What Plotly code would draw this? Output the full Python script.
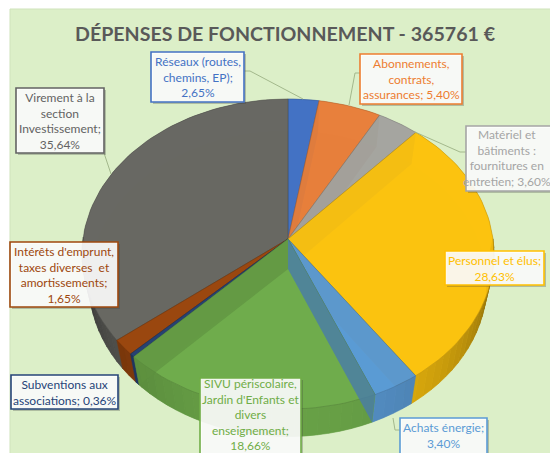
import math
import plotly.graph_objects as go

# ---- data ----
categories = ["Réseaux (routes, chemins, EP)", "Abonnements, contrats, assurances",
              "Matériel et bâtiments : fournitures en entretien", "Personnel et élus",
              "Achats énergie", "SIVU périscolaire, Jardin d'Enfants et divers enseignement",
              "Subventions aux associations", "Intérêts d'emprunt, taxes diverses et amortissements",
              "Virement à la section Investissement"]
values = [2.65, 5.40, 3.60, 28.63, 3.40, 18.66, 0.36, 1.65, 35.64]
colors = ["#4472c4", "#e8803c", "#a5a5a0", "#fcc30f", "#5b9bd5", "#70ad4c", "#264478", "#9e480e", "#686863"]
title_text = "DÉPENSES DE FONCTIONNEMENT - 365761 €"
label_lines = [
    "Réseaux (routes,<br>chemins, EP);<br>2,65%",
    "Abonnements,<br>contrats,<br>assurances; 5,40%",
    "Matériel et<br>bâtiments :<br>fournitures en<br>entretien; 3,60%",
    "Personnel et élus;<br>28,63%",
    "Achats énergie;<br>3,40%",
    "SIVU périscolaire,<br>Jardin d'Enfants et<br>divers<br>enseignement;<br>18,66%",
    "Subventions aux<br>associations; 0,36%",
    "Intérêts d'emprunt,<br>taxes diverses  et<br>amortissements;<br>1,65%",
    "Virement à la<br>section<br>Investissement;<br>35,64%",
]
boxes = [(151, 52, 244, 102), (360, 54, 462, 104), (466, 126, 560, 191), (445, 251, 544, 285),
         (400, 418, 487, 460), (200, 378, 301, 462), (11, 375, 118, 409), (10, 242, 118, 307), (16, 88, 104, 153)]
text_centres = [None, None, (507, 158), None, (443, 435), (250, 414), None, None, None]
leaders = [[(244, 71), (250, 71), (303, 99)], [(360, 73), (355, 73), (349, 105)],
           [(466, 152), (460, 152), (415, 132)], [], [(400, 430), (395, 430), (393, 418)],
           [], [], [], [(104, 153), (111, 174)]]
text_colors = ["#4472c4", "#ed7d31", "#a5a5a5", "#ffc000", "#5b9bd5", "#70ad47", "#264478", "#9e480e", "#636363"]

# ---- projection of the tilted pie ----
CX, CY, A, B, P, DEPTH = 288, 239, 205, 153.6, 0.0968, 30


def proj(deg, r=1.0, low=False):
    s, c = math.sin(math.radians(deg)), math.cos(math.radians(deg))
    k = 1 / (1 + P * c * r)
    x, y = A * s * r * k, -B * c * r * k
    if low:
        return CX + x * 0.965, CY + y * 0.985 + DEPTH
    return CX + x, CY + y


def rgba(h, a=1.0, f=1.0):
    r, g, b = [min(255, int(int(h[i:i + 2], 16) * f)) for i in (1, 3, 5)]
    return f"rgba({r},{g},{b},{a})"


def poly(fig, pts, fill, line=None, w=0.0):
    xs, ys = zip(*pts)
    fig.add_trace(go.Scatter(x=list(xs) + [xs[0]], y=list(ys) + [ys[0]], mode="lines", fill="toself",
                             fillcolor=fill, line=dict(color=line or "rgba(0,0,0,0)", width=w),
                             hoverinfo="skip", showlegend=False))


def arc(a0, a1, low=False):
    n = max(2, int(abs(a1 - a0) / 2) + 1)
    return [proj(a0 + (a1 - a0) * i / n, low=low) for i in range(n + 1)]


fig = go.Figure()
total = sum(values)
spans, cum = [], 0.0
for v in values:
    spans.append((cum * 360 / total, (cum + v) * 360 / total))
    cum += v

order = sorted(range(len(values)), key=lambda i: -math.cos(math.radians(sum(spans[i]) / 2)))
apex_t, apex_b = (CX, CY), (CX, CY + DEPTH)

# solid base of the top faces, so the band above the bottom edge does not show
for i in order:
    poly(fig, [apex_t] + arc(*spans[i]), rgba(colors[i]))

# bottom faces and inner walls, seen through the translucent top
for i in order:
    a0, a1 = spans[i]
    col = colors[i]
    poly(fig, [apex_b] + arc(a0, a1, low=True), rgba(col, 0.7, 0.95))
    poly(fig, [apex_t, proj(a0), proj(a0, low=True), apex_b], rgba(col, 0.7, 0.75))
    poly(fig, [apex_t, proj(a1), proj(a1, low=True), apex_b], rgba(col, 0.7, 0.75))

# outer wall, shaded towards the sides
for i in order:
    a0, a1 = spans[i]
    a = a0
    while a < a1 - 1e-6:
        b = min(a + 3, a1)
        c = math.cos(math.radians((a + b) / 2))
        if c < 0.0:
            f = 0.38 + 0.55 * (max(0.0, -c) ** 0.75)
            fc = rgba(colors[i], 1.0, f)
            poly(fig, [proj(a), proj(b), proj(b, low=True), proj(a, low=True)], fc, fc, 0.6)
        a = b

# top faces
for i in order:
    a0, a1 = spans[i]
    poly(fig, [apex_t] + arc(a0, a1), rgba(colors[i], 0.9), rgba(colors[i], 0.9, 0.75), 0.6)

# side walls of the front wedges that show through the top face
a_end = spans[4][1]
poly(fig, [apex_t, proj(a_end), proj(a_end, low=True), apex_b], rgba(colors[4], 0.8, 0.8))
g_end = spans[5][1]
poly(fig, [apex_t, proj(g_end), proj(g_end, low=True), apex_b], rgba(colors[5], 0.6, 0.85))

# leader lines
for pts in leaders:
    if pts:
        fig.add_trace(go.Scatter(x=[p[0] for p in pts], y=[p[1] for p in pts], mode="lines",
                                 line=dict(color="#a3b88c", width=1), hoverinfo="skip", showlegend=False))

shapes = [dict(type="rect", x0=10, y0=9, x1=552, y1=455, layer="below",
               fillcolor="#dcefc8", line=dict(color="#cfe3bb", width=1))]
annotations = [dict(x=285, y=33, text=f"<b>{title_text}</b>", showarrow=False, xanchor="center", yanchor="middle",
                    font=dict(family="Lato, 'Open Sans', sans-serif", size=19.6, color="#595959"))]
for (x0, y0, x1, y1), txt, tc, ctr in zip(boxes, label_lines, text_colors, text_centres):
    shapes.append(dict(type="rect", x0=x0 + 2, y0=y0 + 2, x1=x1 + 2, y1=y1 + 2, layer="above",
                       fillcolor="rgba(60,60,60,0.28)", line=dict(width=0)))
    shapes.append(dict(type="rect", x0=x0, y0=y0, x1=x1, y1=y1, layer="above",
                       fillcolor="rgba(255,255,255,0.9)", line=dict(color=tc, width=1.6)))
    cx, cy = ctr if ctr else ((x0 + x1) / 2, (y0 + y1) / 2)
    annotations.append(dict(x=cx, y=cy, text=txt, showarrow=False,
                            xanchor="center", yanchor="middle", align="center",
                            font=dict(family="Lato, 'Open Sans', sans-serif", size=12, color=tc)))

fig.update_layout(width=550, height=453, margin=dict(l=0, r=0, t=0, b=0), paper_bgcolor="white",
                  plot_bgcolor="rgba(0,0,0,0)", showlegend=False, shapes=shapes, annotations=annotations,
                  xaxis=dict(range=[0, 550], visible=False, fixedrange=True),
                  yaxis=dict(range=[453, 0], visible=False, fixedrange=True))
fig.write_html("out.html", config={"displayModeBar": False},
               post_script="document.body.style.margin='0';document.documentElement.style.overflow='hidden';")
